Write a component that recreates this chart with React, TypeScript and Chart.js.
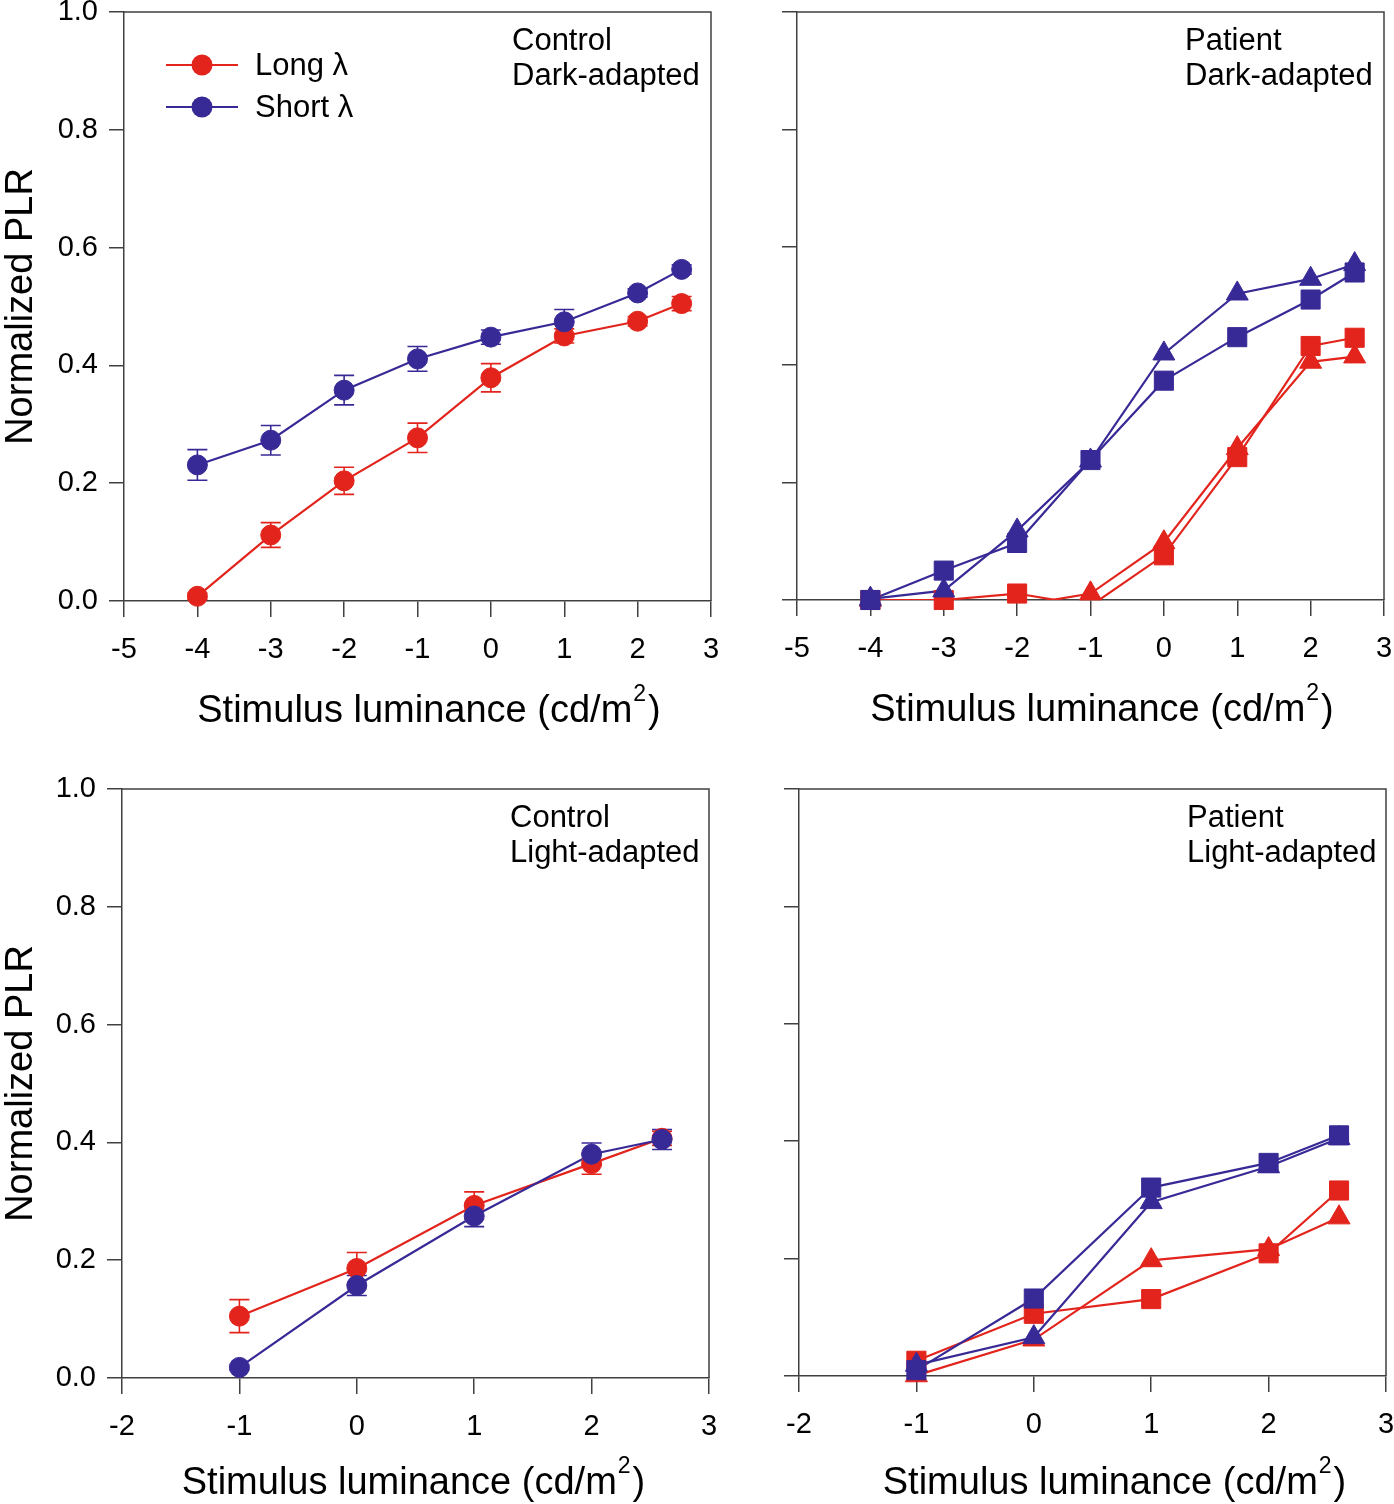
import React, { useEffect, useRef } from 'react';
import { Chart, registerables } from 'chart.js';

Chart.register(...registerables);

// ---------------- data ----------------
const X_TICKS_DARK = [-5, -4, -3, -2, -1, 0, 1, 2, 3];
const X_TICKS_LIGHT = [-2, -1, 0, 1, 2, 3];
const Y_TICKS = [0, 0.2, 0.4, 0.6, 0.8, 1.0];

const Y_TITLE = 'Normalized PLR';
const X_TITLE_MAIN = 'Stimulus luminance (cd/m';
const X_TITLE_SUP = '2';
const X_TITLE_END = ')';
const LABEL_LONG = 'Long λ';
const LABEL_SHORT = 'Short λ';

const ANNOT_CONTROL_DARK = ['Control', 'Dark-adapted'];
const ANNOT_PATIENT_DARK = ['Patient', 'Dark-adapted'];
const ANNOT_CONTROL_LIGHT = ['Control', 'Light-adapted'];
const ANNOT_PATIENT_LIGHT = ['Patient', 'Light-adapted'];

// Control, dark-adapted
const CD_X = [-4, -3, -2, -1, 0, 1, 2, 2.6];
const CD_LONG = [0.008, 0.112, 0.204, 0.277, 0.379, 0.450, 0.475, 0.505];
const CD_LONG_ERR = [0.005, 0.021, 0.023, 0.025, 0.024, 0.012, 0.008, 0.012];
const CD_SHORT = [0.231, 0.273, 0.358, 0.411, 0.448, 0.474, 0.523, 0.563];
const CD_SHORT_ERR = [0.026, 0.025, 0.025, 0.021, 0.012, 0.021, 0.007, 0.008];

// Patient, dark-adapted
const PD_X = [-4, -3, -2, -1, 0, 1, 2, 2.6];
const PD_LONG_SQ = [0.0, 0.0, 0.011, -0.01, 0.076, 0.243, 0.432, 0.446];
const PD_LONG_TRI = [0.0, -0.01, -0.01, 0.011, 0.098, 0.258, 0.405, 0.414];
const PD_SHORT_SQ = [0.0, 0.05, 0.097, 0.238, 0.373, 0.447, 0.511, 0.557];
const PD_SHORT_TRI = [0.002, 0.016, 0.118, 0.237, 0.419, 0.521, 0.546, 0.571];

// Control, light-adapted
const CL_X = [-1, 0, 1, 2, 2.6];
const CL_LONG = [0.105, 0.186, 0.293, 0.364, 0.407];
const CL_LONG_ERR = [0.028, 0.027, 0.023, 0.018, 0.012];
const CL_SHORT = [0.018, 0.157, 0.275, 0.380, 0.405];
const CL_SHORT_ERR = [0.004, 0.017, 0.018, 0.019, 0.017];

// Patient, light-adapted
const PL_X = [-1, 0, 1, 2, 2.6];
const PL_LONG_SQ = [0.026, 0.106, 0.131, 0.209, 0.316];
const PL_LONG_TRI = [0.001, 0.062, 0.197, 0.216, 0.27];
const PL_SHORT_SQ = [0.01, 0.132, 0.321, 0.363, 0.41];
const PL_SHORT_TRI = [0.019, 0.066, 0.296, 0.357, 0.405];

// ---------------- styles ----------------
const RED = 'rgb(226,36,28)';
const BLUE = 'rgb(56,42,150)';
const AXIS = '#404040';
const FONT = '"Liberation Sans", Arial, Helvetica, sans-serif';
const TICK_SIZE = 29;
const TITLE_SIZE = 38;
const ANNOT_SIZE = 31;

type Marker = 'circle' | 'rect' | 'triangle';
const RADIUS: Record<Marker, number> = { circle: 10, rect: 13.5, triangle: 12.7 };

interface Series {
  label: string;
  color: string;
  marker: Marker;
  xs: number[];
  ys: number[];
  errs?: number[];
  order: number;
  legend?: boolean;
}

interface PanelSpec {
  left: number;
  top: number;
  width: number;
  height: number;
  yWidth: number;
  xHeight: number;
  padTop: number;
  padRight: number;
  xMin: number;
  xMax: number;
  xTicks: number[];
  yLabels: boolean;
  annotation: string[];
  titleDx: number;
  titleBaseDy: number;
  series: Series[];
}

const PANELS: PanelSpec[] = [
  {
    left: 0, top: 0, width: 740, height: 760,
    yWidth: 124, xHeight: 159, padTop: 12, padRight: 29,
    xMin: -5, xMax: 3, xTicks: X_TICKS_DARK, yLabels: true,
    annotation: ANNOT_CONTROL_DARK, titleDx: 11.5, titleBaseDy: 121,
    series: [
      { label: LABEL_LONG, color: RED, marker: 'circle', xs: CD_X, ys: CD_LONG, errs: CD_LONG_ERR, order: 2, legend: true },
      { label: LABEL_SHORT, color: BLUE, marker: 'circle', xs: CD_X, ys: CD_SHORT, errs: CD_SHORT_ERR, order: 1, legend: true },
    ],
  },
  {
    left: 740, top: 0, width: 654, height: 760,
    yWidth: 57, xHeight: 160, padTop: 12, padRight: 10,
    xMin: -5, xMax: 3, xTicks: X_TICKS_DARK, yLabels: false,
    annotation: ANNOT_PATIENT_DARK, titleDx: 11.5, titleBaseDy: 121,
    series: [
      { label: LABEL_LONG + ' triangle', color: RED, marker: 'triangle', xs: PD_X, ys: PD_LONG_TRI, order: 4 },
      { label: LABEL_LONG + ' square', color: RED, marker: 'rect', xs: PD_X, ys: PD_LONG_SQ, order: 3 },
      { label: LABEL_SHORT + ' triangle', color: BLUE, marker: 'triangle', xs: PD_X, ys: PD_SHORT_TRI, order: 2 },
      { label: LABEL_SHORT + ' square', color: BLUE, marker: 'rect', xs: PD_X, ys: PD_SHORT_SQ, order: 1 },
    ],
  },
  {
    left: 0, top: 760, width: 740, height: 744,
    yWidth: 122, xHeight: 126, padTop: 29, padRight: 31,
    xMin: -2, xMax: 3, xTicks: X_TICKS_LIGHT, yLabels: true,
    annotation: ANNOT_CONTROL_LIGHT, titleDx: -2, titleBaseDy: 116,
    series: [
      { label: LABEL_LONG, color: RED, marker: 'circle', xs: CL_X, ys: CL_LONG, errs: CL_LONG_ERR, order: 2 },
      { label: LABEL_SHORT, color: BLUE, marker: 'circle', xs: CL_X, ys: CL_SHORT, errs: CL_SHORT_ERR, order: 1 },
    ],
  },
  {
    left: 740, top: 760, width: 654, height: 744,
    yWidth: 59, xHeight: 128, padTop: 29, padRight: 8,
    xMin: -2, xMax: 3, xTicks: X_TICKS_LIGHT, yLabels: false,
    annotation: ANNOT_PATIENT_LIGHT, titleDx: 22, titleBaseDy: 118,
    series: [
      { label: LABEL_LONG + ' triangle', color: RED, marker: 'triangle', xs: PL_X, ys: PL_LONG_TRI, order: 4 },
      { label: LABEL_LONG + ' square', color: RED, marker: 'rect', xs: PL_X, ys: PL_LONG_SQ, order: 3 },
      { label: LABEL_SHORT + ' triangle', color: BLUE, marker: 'triangle', xs: PL_X, ys: PL_SHORT_TRI, order: 2 },
      { label: LABEL_SHORT + ' square', color: BLUE, marker: 'rect', xs: PL_X, ys: PL_SHORT_SQ, order: 1 },
    ],
  },
];

// ---------------- plugins ----------------
const errorBarPlugin = {
  id: 'errorBars',
  beforeDatasetsDraw(chart: any) {
    const { ctx } = chart;
    const xs = chart.scales.x;
    const ys = chart.scales.y;
    chart.data.datasets.forEach((ds: any) => {
      const errs: number[] | undefined = ds.errorBars;
      if (!errs) return;
      ctx.save();
      ctx.strokeStyle = ds.borderColor;
      ctx.lineWidth = 1.6;
      ds.data.forEach((p: any, j: number) => {
        const e = errs[j];
        if (!e) return;
        const px = xs.getPixelForValue(p.x);
        const y1 = ys.getPixelForValue(p.y + e);
        const y2 = ys.getPixelForValue(p.y - e);
        ctx.beginPath();
        ctx.moveTo(px, y1);
        ctx.lineTo(px, y2);
        ctx.moveTo(px - 10, y1);
        ctx.lineTo(px + 10, y1);
        ctx.moveTo(px - 10, y2);
        ctx.lineTo(px + 10, y2);
        ctx.stroke();
      });
      ctx.restore();
    });
  },
};

const framePlugin = {
  id: 'frame',
  beforeDatasetsDraw(chart: any) {
    const { ctx, chartArea } = chart;
    ctx.save();
    ctx.strokeStyle = AXIS;
    ctx.lineWidth = 1.5;
    ctx.beginPath();
    ctx.moveTo(chartArea.left, chartArea.top);
    ctx.lineTo(chartArea.right, chartArea.top);
    ctx.lineTo(chartArea.right, chartArea.bottom);
    ctx.stroke();
    ctx.restore();
  },
};

function makeTextPlugin(spec: PanelSpec) {
  return {
    id: 'panelText',
    afterDraw(chart: any) {
      const { ctx, chartArea } = chart;
      ctx.save();
      ctx.fillStyle = '#000';
      // annotation
      ctx.font = `${ANNOT_SIZE}px ${FONT}`;
      ctx.textAlign = 'left';
      ctx.textBaseline = 'alphabetic';
      spec.annotation.forEach((line, i) => {
        ctx.fillText(line, chartArea.left + 388, chartArea.top + 38 + i * 35);
      });
      // legend
      const legendSeries = spec.series.filter((s) => s.legend);
      legendSeries.forEach((s, i) => {
        const y = chartArea.top + 53 + i * 42;
        ctx.strokeStyle = s.color;
        ctx.lineWidth = 2;
        ctx.beginPath();
        ctx.moveTo(chartArea.left + 42, y);
        ctx.lineTo(chartArea.left + 114, y);
        ctx.stroke();
        ctx.fillStyle = s.color;
        ctx.beginPath();
        ctx.arc(chartArea.left + 78, y, RADIUS[s.marker] + 0.5, 0, Math.PI * 2);
        ctx.fill();
        ctx.fillStyle = '#000';
        ctx.font = `${ANNOT_SIZE}px ${FONT}`;
        ctx.textBaseline = 'middle';
        ctx.fillText(s.label, chartArea.left + 131, y + 1);
      });
      // x title with superscript
      ctx.textBaseline = 'alphabetic';
      ctx.font = `${TITLE_SIZE}px ${FONT}`;
      const w1 = ctx.measureText(X_TITLE_MAIN).width;
      const w3 = ctx.measureText(X_TITLE_END).width;
      ctx.font = `23px ${FONT}`;
      const w2 = ctx.measureText(X_TITLE_SUP).width;
      const total = w1 + 1 + w2 + 2 + w3;
      const cx = (chartArea.left + chartArea.right) / 2 + spec.titleDx;
      const x0 = cx - total / 2;
      const by = chartArea.bottom + spec.titleBaseDy;
      ctx.font = `${TITLE_SIZE}px ${FONT}`;
      ctx.fillText(X_TITLE_MAIN, x0, by);
      ctx.fillText(X_TITLE_END, x0 + w1 + 1 + w2 + 2, by);
      ctx.font = `23px ${FONT}`;
      ctx.fillText(X_TITLE_SUP, x0 + w1 + 1, by - 21);
      ctx.restore();
    },
  };
}

function buildConfig(spec: PanelSpec): any {
  const datasets: any[] = [];
  spec.series.forEach((s) => {
    const pts = s.xs.map((x, i) => ({ x, y: s.ys[i] }));
    datasets.push({
      type: 'line',
      label: s.label + ' line',
      data: pts,
      borderColor: s.color,
      backgroundColor: s.color,
      borderWidth: 2.2,
      pointRadius: 0,
      pointHoverRadius: 0,
      showLine: true,
      fill: false,
      tension: 0,
      order: 100 + s.order,
      clip: { left: false, top: false, right: false, bottom: 0 },
    });
    datasets.push({
      type: 'line',
      label: s.label,
      data: pts,
      showLine: false,
      borderColor: s.color,
      backgroundColor: s.color,
      pointStyle: s.marker,
      pointRadius: (ctx: any) => (ctx.raw && ctx.raw.y < 0 ? 0 : RADIUS[s.marker]),
      pointHoverRadius: (ctx: any) => (ctx.raw && ctx.raw.y < 0 ? 0 : RADIUS[s.marker]),
      pointBorderWidth: 1,
      pointBorderColor: s.color,
      pointBackgroundColor: s.color,
      errorBars: s.errs,
      order: s.order,
      clip: false,
    });
  });

  const tickFont = { family: FONT, size: TICK_SIZE };

  return {
    type: 'line',
    data: { datasets },
    options: {
      animation: false,
      responsive: false,
      maintainAspectRatio: false,
      devicePixelRatio: 1,
      events: [],
      layout: {
        autoPadding: false,
        padding: { left: 0, top: spec.padTop, right: spec.padRight, bottom: 0 },
      },
      plugins: {
        legend: { display: false },
        tooltip: { enabled: false },
        title: { display: false },
      },
      scales: {
        x: {
          type: 'linear',
          position: 'bottom',
          min: spec.xMin,
          max: spec.xMax,
          afterBuildTicks: (sc: any) => {
            sc.ticks = spec.xTicks.map((v) => ({ value: v }));
          },
          afterFit: (sc: any) => {
            sc.height = spec.xHeight;
            sc.paddingLeft = 0;
            sc.paddingRight = 0;
          },
          ticks: {
            autoSkip: false,
            maxRotation: 0,
            minRotation: 0,
            padding: 16,
            color: '#000',
            font: tickFont,
            callback: (v: any) => String(v),
          },
          grid: {
            drawOnChartArea: false,
            drawTicks: true,
            tickLength: 16,
            color: AXIS,
            lineWidth: 1.5,
          },
          border: { display: true, color: AXIS, width: 1.5 },
        },
        y: {
          type: 'linear',
          position: 'left',
          min: 0,
          max: 1,
          afterBuildTicks: (sc: any) => {
            sc.ticks = Y_TICKS.map((v) => ({ value: v }));
          },
          afterFit: (sc: any) => {
            sc.width = spec.yWidth;
            sc.paddingTop = 0;
            sc.paddingBottom = 0;
          },
          ticks: {
            padding: 11,
            color: '#000',
            font: tickFont,
            callback: (v: any) => (spec.yLabels ? Number(v).toFixed(1) : ''),
          },
          grid: {
            drawOnChartArea: false,
            drawTicks: true,
            tickLength: 15,
            color: AXIS,
            lineWidth: 1.5,
          },
          border: { display: true, color: AXIS, width: 1.5 },
          title: {
            display: spec.yLabels,
            text: Y_TITLE,
            color: '#000',
            font: { family: FONT, size: TITLE_SIZE, lineHeight: 1 },
            padding: { top: 3, bottom: 0 },
          },
        },
      },
    },
    plugins: [framePlugin, errorBarPlugin, makeTextPlugin(spec)],
  };
}

function Panel({ spec }: { spec: PanelSpec }) {
  const ref = useRef<HTMLCanvasElement | null>(null);
  useEffect(() => {
    if (!ref.current) return;
    const chart = new Chart(ref.current, buildConfig(spec));
    return () => chart.destroy();
  }, [spec]);
  return (
    <canvas
      ref={ref}
      width={spec.width}
      height={spec.height}
      style={{
        position: 'absolute',
        left: spec.left,
        top: spec.top,
        width: spec.width,
        height: spec.height,
      }}
    />
  );
}

export default function App() {
  return (
    <div
      style={{
        position: 'absolute',
        left: 0,
        top: 0,
        width: 1394,
        height: 1504,
        background: '#fff',
        overflow: 'hidden',
      }}
    >
      {PANELS.map((p, i) => (
        <Panel key={i} spec={p} />
      ))}
    </div>
  );
}
